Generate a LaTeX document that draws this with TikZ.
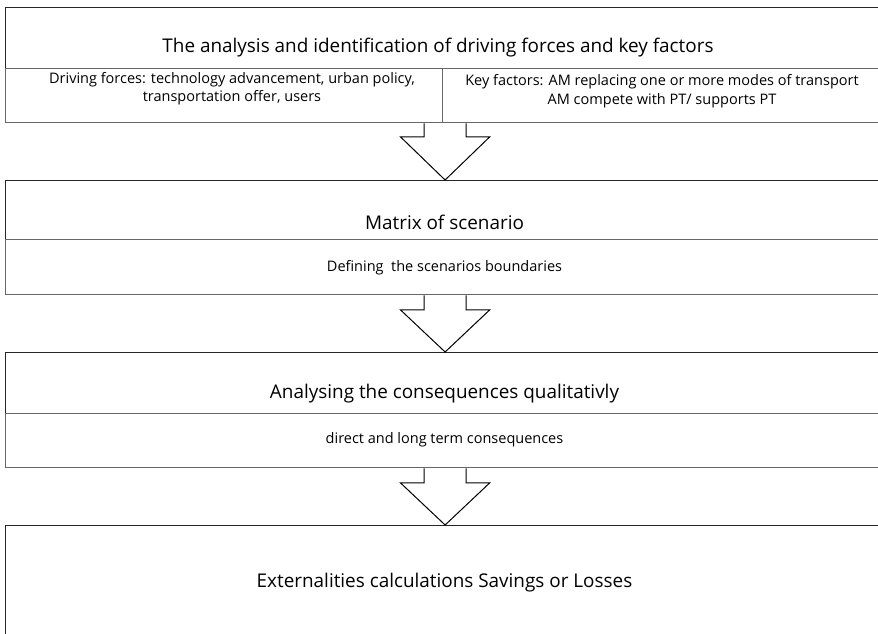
\documentclass[tikz,border=0pt]{standalone}
\usepackage{fontspec}
\setmainfont{Open Sans}
\usetikzlibrary{calc}
\begin{document}
\begin{tikzpicture}[x=1pt,y=1pt,
  frame/.style={draw=black!85, line width=1.2pt, fill=white, anchor=north west, inner sep=0pt, minimum width=879pt},
  subframe/.style={draw=black!60, line width=1.4pt, fill=white, anchor=north west, inner sep=0pt},
  ttl/.style={font=\fontsize{18.9}{22}\selectfont, inner sep=0pt},
  sub/.style={font=\fontsize{14.5}{17.5}\selectfont, inner sep=0pt, align=center},
  blockarrow/.style={draw=black, line width=1pt, fill=white, line join=miter}]
\clip (0,0) rectangle (878,634);
\fill[white] (0,0) rectangle (878,634);
% box 1
\node[frame, minimum height=61pt] (b1) at (5,627) {};
\node[subframe, minimum width=437pt, minimum height=54pt] (b1l) at (5,566) {};
\node[subframe, minimum width=442pt, minimum height=54pt] (b1r) at (442,566) {};
\node[ttl] (t1) at (438,586) {The analysis and identification of driving forces and key factors};
\node[sub] (s1l) at (232,545.5) {Driving forces: technology advancement, urban policy,\\transportation offer, users};
\node[sub] (s1r) at (662,543) {Key factors: AM replacing one or more modes of transport\\[2pt]AM compete with PT/ supports PT};
% box 2
\node[frame, minimum height=59pt] (b2) at (5,454) {};
\node[subframe, minimum width=879pt, minimum height=55pt] (b2s) at (5,395) {};
\node[ttl] (t2) at (444.5,412) {Matrix of scenario};
\node[sub] (s2) at (444.5,366) {Defining\ \ the scenarios boundaries};
% box 3
\node[frame, minimum height=61pt] (b3) at (5,282) {};
\node[subframe, minimum width=879pt, minimum height=54pt] (b3s) at (5,221) {};
\node[ttl] (t3) at (444.5,240) {Analysing the consequences qualitativly};
\node[sub] (s3) at (444.5,194) {direct and long term consequences};
% box 4
\node[frame, minimum height=140pt] (b4) at (5,109) {};
\node[ttl] (t4) at (444.5,51) {Externalities calculations Savings or Losses};
% arrows
\coordinate (a1) at (b1.south |- b1l.south);
\coordinate (a2) at (b2s.south);
\coordinate (a3) at (b3s.south);
\draw[blockarrow] ($(a1)+(-21,0)$) -- ($(b2.north)+(-21,43)$) -- ($(b2.north)+(-44.5,43)$) -- (b2.north) -- ($(b2.north)+(44.5,43)$) -- ($(b2.north)+(21,43)$) -- ($(a1)+(21,0)$);
\draw[blockarrow] ($(a2)+(-21,0)$) -- ($(b3.north)+(-21,42)$) -- ($(b3.north)+(-44.5,42)$) -- (b3.north) -- ($(b3.north)+(44.5,42)$) -- ($(b3.north)+(21,42)$) -- ($(a2)+(21,0)$);
\draw[blockarrow] ($(a3)+(-21,0)$) -- ($(b4.north)+(-21,42)$) -- ($(b4.north)+(-44.5,42)$) -- (b4.north) -- ($(b4.north)+(44.5,42)$) -- ($(b4.north)+(21,42)$) -- ($(a3)+(21,0)$);
\end{tikzpicture}
\end{document}
